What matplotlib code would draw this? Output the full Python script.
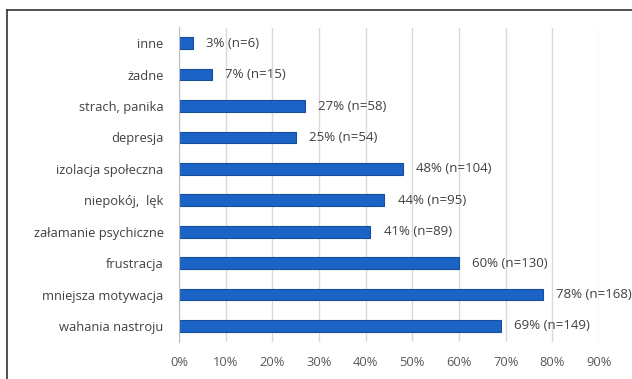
import matplotlib.pyplot as plt
from matplotlib.lines import Line2D

# dane z wykresu (od góry do dołu)
kategorie = ["inne", "żadne", "strach, panika", "depresja", "izolacja społeczna",
             "niepokój,  lęk", "załamanie psychiczne", "frustracja",
             "mniejsza motywacja", "wahania nastroju"]
procenty = [3, 7, 27, 25, 48, 44, 41, 60, 78, 69]
liczby = [6, 15, 58, 54, 104, 95, 89, 130, 168, 149]
ticki = [0, 10, 20, 30, 40, 50, 60, 70, 80, 90]

plt.rcParams['font.family'] = ['Open Sans', 'DejaVu Sans']

fig = plt.figure(figsize=(6.32, 3.79), dpi=100)
ax = fig.add_axes([179 / 632, 1 - 341.7 / 379, 420 / 632, 314.2 / 379])

y = list(range(len(kategorie)))
ax.barh(y, procenty, height=0.37, color='#1C63C6', edgecolor='#164E9C', linewidth=0.8, zorder=3)

for yi, p, n in zip(y, procenty, liczby):
    ax.annotate(f"{p}% (n={n})", xy=(p, yi), xytext=(9.5, 0), textcoords='offset points',
                va='center', ha='left', fontsize=9.5, color='#404040')

ax.set_xlim(0, 90)
ax.set_ylim(len(kategorie) - 0.5, -0.5)
ax.set_yticks(y)
ax.set_yticklabels(kategorie, fontsize=9.3, color='#404040')
ax.set_xticks(ticki)
ax.set_xticklabels([f"{t}%" for t in ticki], fontsize=9.3, color='#595959')
ax.tick_params(axis='both', length=0)
ax.tick_params(axis='y', pad=11)
ax.tick_params(axis='x', pad=10)
ax.grid(axis='x', color='#D9D9D9', linewidth=1, zorder=0)
for s in ['top', 'right', 'bottom']:
    ax.spines[s].set_visible(False)
ax.spines['left'].set_color('#BFBFBF')
ax.spines['left'].set_zorder(4)

# ramka (górna i lewa krawędź)
fig.add_artist(Line2D([7 / 632, 7 / 632], [0, 1 - 10 / 379], transform=fig.transFigure,
                      color='#333333', linewidth=1.2))
fig.add_artist(Line2D([7 / 632, 1], [1 - 10 / 379, 1 - 10 / 379], transform=fig.transFigure,
                      color='#333333', linewidth=1.2))

fig.savefig("out.png", dpi=100)
